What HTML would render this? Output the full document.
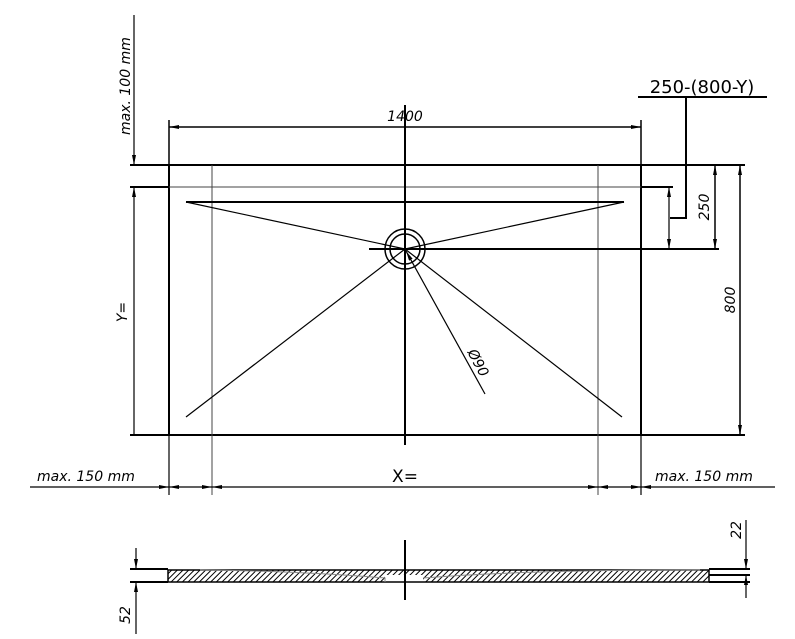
<!DOCTYPE html>
<html><head><meta charset="utf-8"><style>body{margin:0;background:#fff}svg{display:block}</style></head><body>
<svg width="795" height="639" viewBox="0 0 795 639" xmlns="http://www.w3.org/2000/svg" font-family="DejaVu Sans, Liberation Sans, sans-serif">
<defs>
<marker id="a" viewBox="0 0 10 4" refX="10" refY="2" markerWidth="10" markerHeight="4" orient="auto-start-reverse" markerUnits="userSpaceOnUse"><path d="M0,0 L10,2 L0,4z" fill="#000"/></marker>
<pattern id="h" width="4" height="4" patternUnits="userSpaceOnUse" patternTransform="rotate(45)"><line x1="0" y1="0" x2="0" y2="4" stroke="#000" stroke-width="2"/></pattern>
</defs>
<g stroke="#000" fill="none">
<rect x="169" y="165" width="472" height="270" stroke-width="2"/>
<line x1="130" y1="165" x2="668" y2="165" stroke-width="2"/>
<line x1="641" y1="165" x2="745" y2="165" stroke-width="2"/>
<line x1="130" y1="187" x2="169" y2="187" stroke-width="2"/>
<line x1="169" y1="187" x2="641" y2="187" stroke-width="1" stroke="#444"/>
<line x1="641" y1="187" x2="673" y2="187" stroke-width="2"/>
<line x1="130" y1="435" x2="745" y2="435" stroke-width="2"/>
<line x1="212" y1="165" x2="212" y2="495" stroke-width="1" stroke="#444"/>
<line x1="598" y1="165" x2="598" y2="495" stroke-width="1" stroke="#444"/>
<line x1="405" y1="105" x2="405" y2="445" stroke-width="2"/>
<line x1="186" y1="202" x2="624" y2="202" stroke-width="2"/>
<line x1="369" y1="249" x2="719" y2="249" stroke-width="2"/>
<g stroke-width="1.2">
<line x1="186" y1="202" x2="405" y2="249"/><line x1="624" y1="202" x2="405" y2="249"/>
<line x1="186" y1="417" x2="405" y2="249"/><line x1="622" y1="417" x2="405" y2="249"/>
<line x1="485" y1="394" x2="406" y2="251" marker-end="url(#a)"/>
</g>
<circle cx="405" cy="249" r="20" stroke-width="1.5"/>
<circle cx="405" cy="249" r="15" stroke-width="1.5"/>
<line x1="134" y1="15" x2="134" y2="165" stroke-width="1.2" marker-end="url(#a)"/>
<line x1="134" y1="187" x2="134" y2="435" stroke-width="1.2" marker-start="url(#a)"/>
<line x1="169" y1="120" x2="169" y2="165" stroke-width="1.5"/>
<line x1="641" y1="120" x2="641" y2="165" stroke-width="1.5"/>
<line x1="169" y1="127" x2="641" y2="127" stroke-width="1.5" marker-start="url(#a)" marker-end="url(#a)"/>
<line x1="740" y1="165" x2="740" y2="435" stroke-width="1.5" marker-start="url(#a)" marker-end="url(#a)"/>
<line x1="715" y1="165" x2="715" y2="249" stroke-width="1.5" marker-start="url(#a)" marker-end="url(#a)"/>
<line x1="669" y1="187" x2="669" y2="249" stroke-width="1.2" marker-start="url(#a)" marker-end="url(#a)"/>
<polyline points="686,97 686,218 670,218" stroke-width="2"/>
<line x1="638" y1="97" x2="767" y2="97" stroke-width="2"/>
<line x1="169" y1="435" x2="169" y2="495" stroke-width="1.2"/>
<line x1="641" y1="435" x2="641" y2="495" stroke-width="1.2"/>
<line x1="30" y1="487" x2="169" y2="487" stroke-width="1.2" marker-end="url(#a)"/>
<line x1="169" y1="487" x2="212" y2="487" stroke-width="1.2" marker-start="url(#a)" marker-end="url(#a)"/>
<line x1="212" y1="487" x2="598" y2="487" stroke-width="1.2" marker-start="url(#a)" marker-end="url(#a)"/>
<line x1="598" y1="487" x2="641" y2="487" stroke-width="1.2" marker-start="url(#a)" marker-end="url(#a)"/>
<line x1="641" y1="487" x2="775" y2="487" stroke-width="1.2" marker-start="url(#a)"/>
<rect x="168" y="570" width="541" height="12" fill="url(#h)" stroke="none"/>
<rect x="385" y="575" width="38" height="7" fill="#fff" stroke="none"/>
<path d="M168,570 L709,570 L709,582 L168,582Z" stroke-width="1.5"/>
<path d="M385,582 L385,578 Q300,571 200,570" stroke="#888" stroke-width="1"/>
<path d="M423,578 Q520,570 700,570" stroke="#888" stroke-width="1"/>
<line x1="130" y1="569" x2="168" y2="569" stroke-width="2"/>
<line x1="130" y1="582" x2="168" y2="582" stroke-width="2"/>
<line x1="709" y1="569" x2="750" y2="569" stroke-width="2"/>
<line x1="709" y1="575" x2="750" y2="575" stroke-width="2"/>
<line x1="709" y1="582" x2="750" y2="582" stroke-width="2"/>
<line x1="405" y1="540" x2="405" y2="600" stroke-width="2"/>
<line x1="136" y1="548" x2="136" y2="569" stroke-width="1.2" marker-end="url(#a)"/>
<line x1="136" y1="582" x2="136" y2="634" stroke-width="1.2" marker-start="url(#a)"/>
<line x1="746" y1="520" x2="746" y2="569" stroke-width="1.2" marker-end="url(#a)"/>
<line x1="746" y1="575" x2="746" y2="598" stroke-width="1.2" marker-start="url(#a)"/>
</g>
<g fill="#000" font-style="italic" font-size="14">
<text x="405" y="121" text-anchor="middle">1400</text>
<text x="37" y="481">max. 150 mm</text>
<text x="655" y="481">max. 150 mm</text>
<text transform="translate(130,135) rotate(-90)">max. 100 mm</text>
<text transform="translate(127,312) rotate(-90)" text-anchor="middle">Y=</text>
<text transform="translate(735,300) rotate(-90)" text-anchor="middle">800</text>
<text transform="translate(709,207) rotate(-90)" text-anchor="middle">250</text>
<text transform="translate(474,365) rotate(62)" text-anchor="middle">Ø90</text>
<text transform="translate(741,530) rotate(-90)" text-anchor="middle">22</text>
<text transform="translate(130,615) rotate(-90)" text-anchor="middle">52</text>
</g>
<text x="405" y="482" text-anchor="middle" font-size="17">X=</text>
<text x="702" y="93" text-anchor="middle" font-size="18">250-(800-Y)</text>
</svg>
</body></html>
